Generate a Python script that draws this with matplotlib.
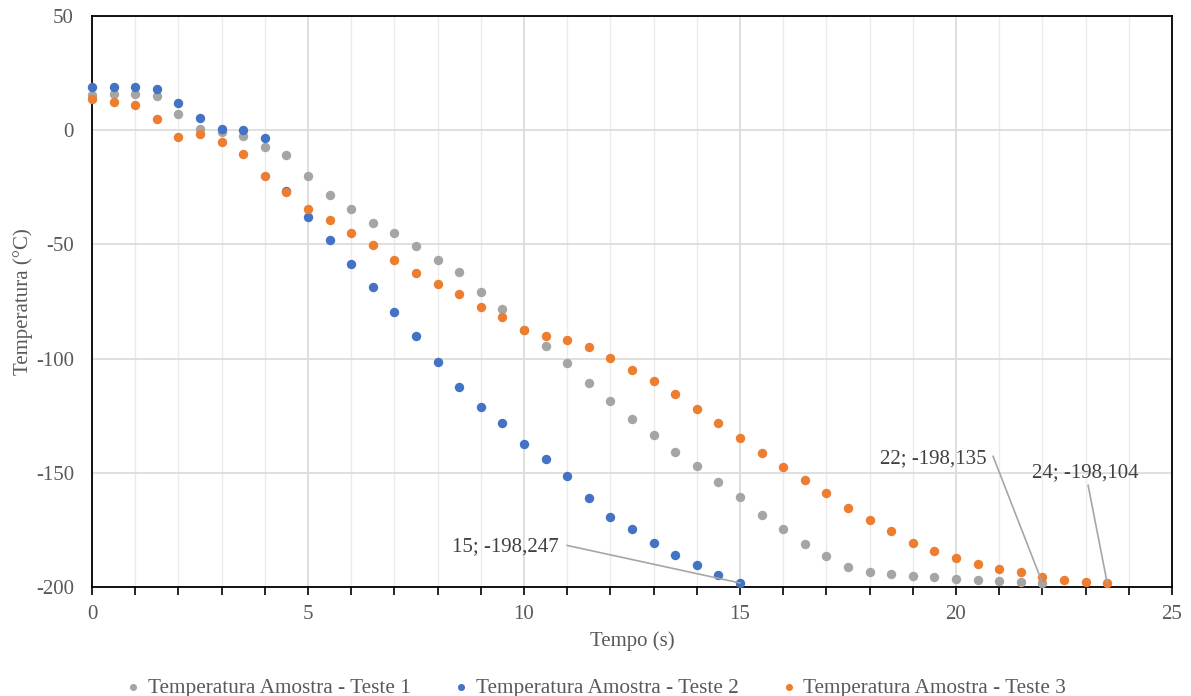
import numpy as np
import matplotlib
matplotlib.use('Agg')
import matplotlib.pyplot as plt
from matplotlib.ticker import MultipleLocator

plt.rcParams['font.family'] = ['Liberation Serif', 'DejaVu Serif']
plt.rcParams['axes.unicode_minus'] = False

# tempo (s), amostras a cada 0,5 s
t1 = np.arange(0, 22.01, 0.5)
temp1 = [15.4, 15.8, 16.0, 15.0, 7.0, 0.4, -0.6, -2.5, -7.5, -10.7,
         -20.2, -28.4, -34.5, -40.8, -45.2, -50.7, -57.0, -62.1, -71.0, -78.1,
         -87.6, -94.4, -101.9, -110.5, -118.7, -126.6, -133.3, -140.9, -147.2, -154.2,
         -160.6, -168.3, -174.6, -181.2, -186.3, -191.2, -193.3, -194.2, -195.0, -195.5,
         -196.4, -197.1, -197.4, -197.8, -198.135]

t2 = np.arange(0, 15.01, 0.5)
temp2 = [18.8, 18.8, 18.8, 17.9, 11.8, 5.2, 0.4, 0.1, -3.4, -26.4,
         -38.2, -48.1, -58.6, -68.7, -79.5, -90.3, -101.6, -112.4, -121.0, -128.3,
         -137.4, -144.1, -151.4, -161.2, -169.2, -174.7, -180.6, -186.0, -190.4, -194.9,
         -198.247]

t3 = np.arange(0, 23.51, 0.5)
temp3 = [13.5, 12.3, 10.9, 5.0, -2.8, -1.8, -5.0, -10.4, -19.9, -26.9,
         -34.5, -39.3, -44.9, -50.4, -57.0, -62.7, -67.5, -71.9, -77.2, -82.0,
         -87.4, -90.0, -91.9, -95.1, -99.9, -104.9, -109.8, -115.4, -121.9, -128.1,
         -134.8, -141.2, -147.6, -153.0, -159.0, -165.3, -170.7, -175.3, -180.9, -184.4,
         -187.3, -190.1, -192.0, -193.6, -195.6, -196.8, -197.9, -198.104]

series = [
    (t1, temp1, '#A5A5A5', 'Temperatura Amostra - Teste 1'),
    (t2, temp2, '#4472C4', 'Temperatura Amostra - Teste 2'),
    (t3, temp3, '#ED7D31', 'Temperatura Amostra - Teste 3'),
]

label_txt = ['22; -198,135', '15; -198,247', '24; -198,104']

fig = plt.figure(figsize=(11.91, 6.96), dpi=100)
ax = fig.add_axes([0.0772, 0.1566, 0.9068, 0.8204])

for t, y, c, name in series:
    ax.scatter(t, y, s=46, color=c, label=name, zorder=3, linewidths=0, clip_on=False)

ax.set_xlim(0, 25)
ax.set_ylim(-200, 50)
ax.xaxis.set_major_locator(MultipleLocator(5))
ax.xaxis.set_minor_locator(MultipleLocator(1))
ax.yaxis.set_major_locator(MultipleLocator(50))
ax.grid(True, which='major', color='#D9D9D9', lw=1.2, zorder=0)
ax.grid(True, which='minor', axis='x', color='#EBEBEB', lw=1.0, zorder=0)
ax.set_axisbelow(True)
for s in ax.spines.values():
    s.set_color('black')
    s.set_linewidth(1.3)
ax.tick_params(axis='x', which='both', direction='out', length=6, width=1.2,
               colors='black', labelcolor='#595959', labelsize=15, pad=7)
ax.tick_params(axis='y', which='both', length=0, labelcolor='#595959',
               labelsize=15, pad=13)

ax.set_xlabel('Tempo (s)', fontsize=15, color='#595959', labelpad=5)
ax.set_ylabel('Temperatura (°C)', fontsize=15, color='#595959', labelpad=2)

# rótulos de dados com linhas de chamada
ends = [(t1[-1], temp1[-1]), (t2[-1], temp2[-1]), (t3[-1], temp3[-1])]
txt_pos = [(20.7, -144.0, 'right'), (10.8, -182.5, 'right'), (23.0, -150.0, 'center')]
line_start = [(20.86, -142.8), (11.0, -181.8), (23.06, -155.5)]
for (xe, ye), (xt, yt, ha), (xs, ys), s in zip(ends, txt_pos, line_start, label_txt):
    ax.text(xt, yt, s, fontsize=15, color='#404040', ha=ha, va='center', zorder=5)
    ax.plot([xs, xe], [ys, ye], color='#A6A6A6', lw=1.2, zorder=4)

fig.legend(loc='lower center', bbox_to_anchor=(0.5, -0.03), ncol=3, frameon=False,
           fontsize=15.3, markerscale=0.75, handlelength=0.8, handletextpad=0.3,
           columnspacing=1.95, labelcolor='#595959')

fig.savefig('out.png', dpi=100)
